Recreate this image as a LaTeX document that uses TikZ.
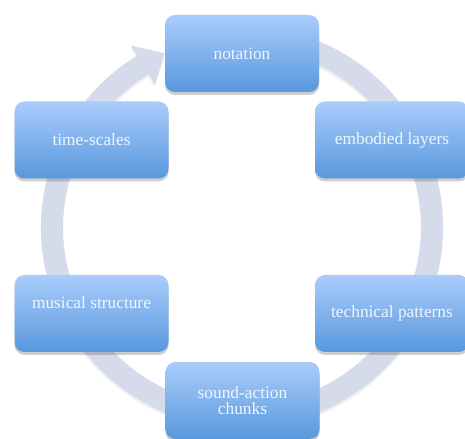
\documentclass[tikz,border=0pt]{standalone}
\usepackage{fontspec}
\setmainfont{Liberation Serif}
\usetikzlibrary{shadows}
\definecolor{ringcol}{RGB}{213,219,234}
\definecolor{boxtop}{RGB}{170,204,251}
\definecolor{boxbot}{RGB}{88,152,222}
\definecolor{txtcol}{RGB}{240,245,252}
\tikzset{
  stagebox/.style={rectangle, rounded corners=7.5pt, minimum width=115.5pt,
    minimum height=57.75pt, inner sep=0pt, top color=boxtop, bottom color=boxbot,
    draw=none, text=txtcol, align=center,
    font=\fontsize{13}{12}\selectfont,
    drop shadow={shadow xshift=0pt, shadow yshift=-2.2pt, opacity=0.28, fill=black!70}},
  ringshape/.style={fill=ringcol, draw=none}
}
\begin{document}
\begin{tikzpicture}[x=0.75pt, y=0.75pt]
\useasboundingbox (0,0) rectangle (465,439);
% ring with arrowhead
\begin{scope}[shift={(242,212)}]
\fill[black, opacity=0.06, yshift=-2] (80:201) arc[start angle=80, end angle=-238.5, radius=201]
  -- (121.5:213) -- (114:190) -- (121.5:167) -- (121.5:179)
  arc[start angle=-238.5, end angle=80, radius=179] -- cycle;
\path[ringshape] (80:201) arc[start angle=80, end angle=-238.5, radius=201]
  -- (121.5:213) -- (114:190) -- (121.5:167) -- (121.5:179)
  arc[start angle=-238.5, end angle=80, radius=179] -- cycle;
\end{scope}
% boxes
\node[stagebox] (notation) at (242,385.5) {notation};
\node[stagebox] (embodied) at (392,299) {embodied layers};
\node[stagebox] (technical) at (392,125.5) {technical patterns};
\node[stagebox] (sound) at (242.5,38.5) {sound-action\\chunks};
\node[stagebox, text=txtcol!0] (musical) at (91.5,125.5) {};
\node[text=txtcol, font=\fontsize{13}{12}\selectfont] (musicaltext) at (91.5,136) {musical structure};
\node[stagebox] (timescales) at (91.5,299) {time-scales};
\end{tikzpicture}
\end{document}
